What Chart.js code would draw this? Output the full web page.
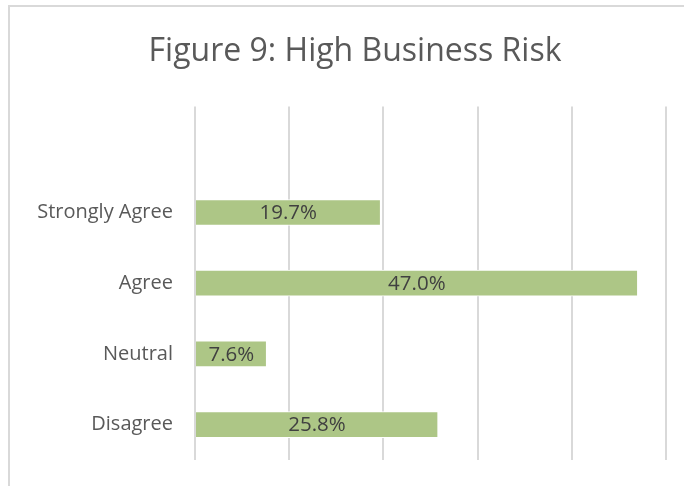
<!DOCTYPE html>
<html lang="en">
<head>
  <meta charset="UTF-8">
  <script src="https://cdn.jsdelivr.net/npm/chart.js"></script>
  <title>Figure 9</title>
  <style>
    body { margin: 0; background: #fff; }
    #wrap { position: absolute; left: 0; top: 0; width: 684px; height: 486px; }
    #frame { position: absolute; left: 8px; top: 5px; width: 700px; height: 500px;
             border-left: 2px solid #d9d9d9; border-top: 2px solid #d9d9d9; }
  </style>
</head>
<body>
  <div id="frame"></div>
  <div id="wrap"><canvas id="grafico1"></canvas></div>

<script>
  // dados do grafico (primeira linha vazia, como na planilha)
  const categorias = ['', 'Strongly Agree', 'Agree', 'Neutral', 'Disagree'];
  const percentuais = [null, 19.7, 47.0, 7.6, 25.8];
  const ticksX = [0, 10, 20, 30, 40, 50];

  // rotulos de valor dentro das barras + titulo centralizado na figura
  const rotulos = {
    id: 'rotulos',
    afterLayout(chart) {
      // o titulo no original fica centrado um pouco mais a direita
      if (chart.titleBlock) chart.titleBlock.left += 44;
    },
    afterDatasetsDraw(chart) {
      const ctx = chart.ctx;
      const meta = chart.getDatasetMeta(0);
      ctx.save();
      ctx.font = '20.5px "Open Sans"';
      ctx.fillStyle = '#404040';
      ctx.textAlign = 'center';
      ctx.textBaseline = 'middle';
      meta.data.forEach((bar, i) => {
        const v = percentuais[i];
        if (v == null) return;
        ctx.fillText(v.toFixed(1) + '%', (bar.x + bar.base) / 2, bar.y + 1);
      });
      ctx.restore();
    }
  };

  const dados = {
    labels: categorias,
    datasets: [{
      label: 'High Business Risk',
      data: percentuais,
      backgroundColor: '#adc686',
      borderColor: '#ffffff',
      borderWidth: 1,
      barThickness: 26
    }]
  };

  const config = {
    type: 'bar',
    data: dados,
    options: {
      indexAxis: 'y',
      responsive: true,
      maintainAspectRatio: false,
      animation: false,
      layout: { padding: { left: 0, right: 18, top: 0, bottom: 26 } },
      plugins: {
        legend: { display: false },
        tooltip: { enabled: false },
        title: {
          display: true,
          text: 'Figure 9: High Business Risk',
          color: '#595959',
          font: { family: 'Open Sans', size: 32, weight: 'normal' },
          padding: { top: 33, bottom: 35 }
        }
      },
      scales: {
        x: {
          min: ticksX[0],
          max: ticksX[ticksX.length - 1],
          afterBuildTicks: (s) => { s.ticks = ticksX.map(v => ({ value: v })); },
          afterFit: (s) => { s.height = 0; },
          ticks: { display: false },
          grid: { color: '#d9d9d9', lineWidth: 2, drawTicks: false },
          border: { display: false }
        },
        y: {
          afterFit: (s) => { s.width = 195; s.paddingTop = 0; s.paddingBottom = 0; },
          ticks: {
            color: '#595959',
            padding: 22,
            font: { family: 'Open Sans', size: 20 }
          },
          grid: { display: false, drawTicks: false },
          border: { display: false }
        }
      }
    },
    plugins: [rotulos]
  };

  new Chart(document.getElementById('grafico1'), config);
</script>
</body>
</html>
